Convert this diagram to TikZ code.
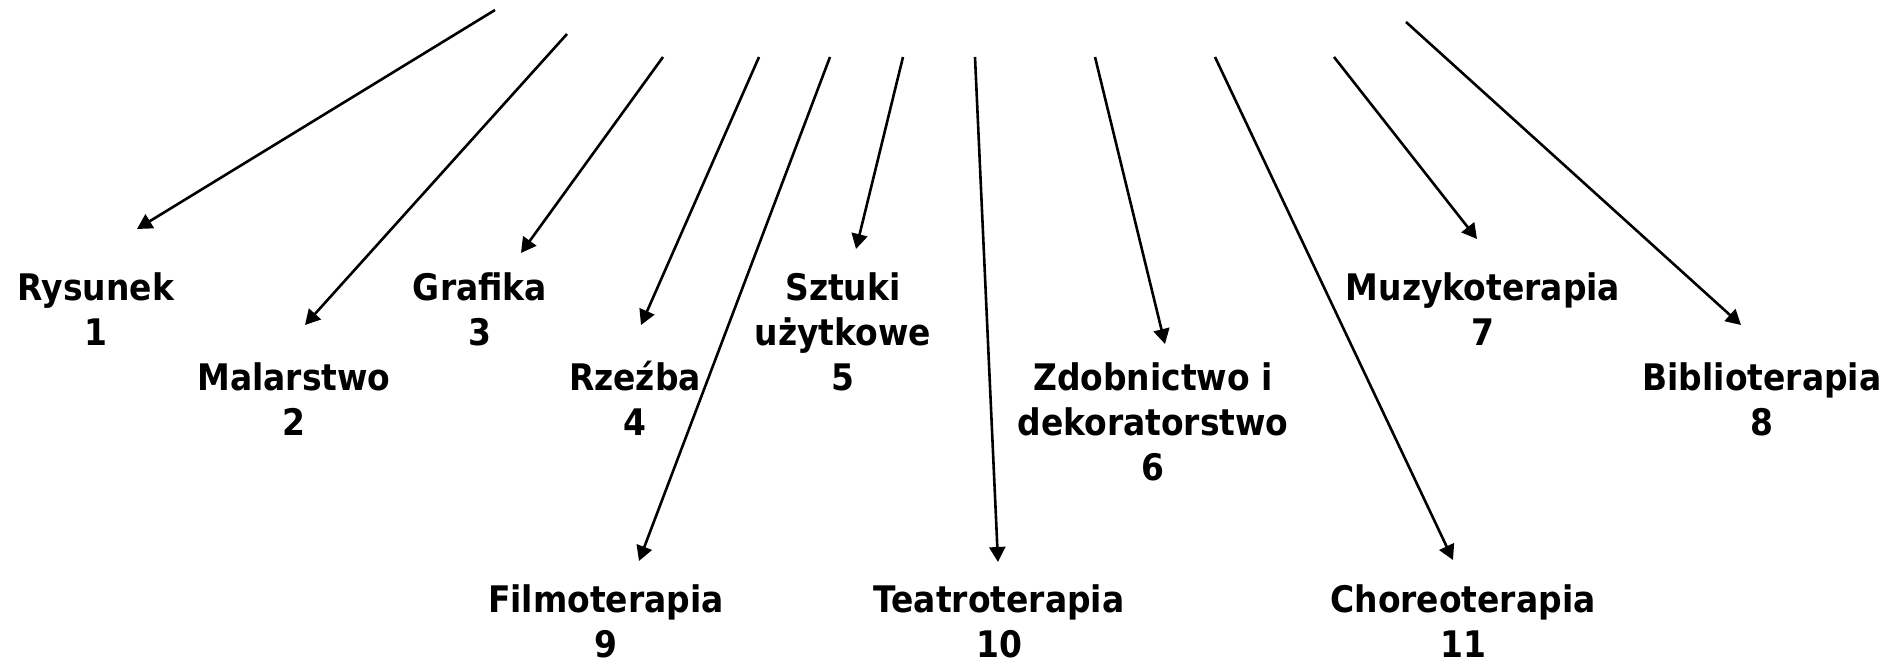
\documentclass[tikz,border=0pt]{standalone}
\usepackage{fontspec}
\newfontfamily\lblfont[FakeStretch=0.9]{DejaVu Sans}
\usetikzlibrary{arrows.meta,positioning}

\begin{document}
\begin{tikzpicture}[
    x=0.5pt, y=-0.5pt,
    lbl/.style={align=center, anchor=base, inner sep=0pt, font=\lblfont\bfseries\fontsize{18.3}{22.5}\selectfont},
    arr/.style={line width=1.3pt, draw=black, -{Triangle[length=7.5pt, width=8pt]}}
]
    \useasboundingbox (0,0) rectangle (1901,664);

    % Labels (placed at the baseline of the number line)
    \node[lbl] (rys) at (96,345)   {Rysunek\\1};
    \node[lbl] (mal) at (294,435)  {Malarstwo\\2};
    \node[lbl] (gra) at (480,345)  {Grafika\\3};
    \node[lbl] (rze) at (635,435)  {Rzeźba\\4};
    \node[lbl] (szt) at (843,390)  {Sztuki\\użytkowe\\5};
    \node[lbl] (zdo) at (1153,480) {Zdobnictwo i\\dekoratorstwo\\6};
    \node[lbl] (muz) at (1483,345) {Muzykoterapia\\7};
    \node[lbl] (bib) at (1762,435) {Biblioterapia\\8};
    \node[lbl] (fil) at (606,657)  {Filmoterapia\\9};
    \node[lbl] (tea) at (999,657)  {Teatroterapia\\10};
    \node[lbl] (cho) at (1463,657) {Choreoterapia\\11};

    % Arrow starts
    \coordinate (s1) at (495,10);
    \coordinate (s2) at (567,34);
    \coordinate (s3) at (663,57);
    \coordinate (s4) at (759,57);
    \coordinate (s9) at (830,57);
    \coordinate (s5) at (903,57);
    \coordinate (s10) at (975,57);
    \coordinate (s6) at (1095,57);
    \coordinate (s11) at (1215,57);
    \coordinate (s7) at (1334,57);
    \coordinate (s8) at (1406,22);

    % Arrows
    \foreach \s/\nd/\dx/\dy in {s1/rys/41/-116, s2/mal/11/-110, s3/gra/41/-92, s4/rze/6/-110,
        s9/fil/33/-96, s5/szt/13/-141, s10/tea/-1/-95, s6/zdo/12/-136,
        s11/cho/-10/-97, s7/muz/-6/-106, s8/bib/-21/-110} {
        \draw[arr] (\s) -- ([shift={(\dx,\dy)}]\nd.base);
    }

\end{tikzpicture}
\end{document}
